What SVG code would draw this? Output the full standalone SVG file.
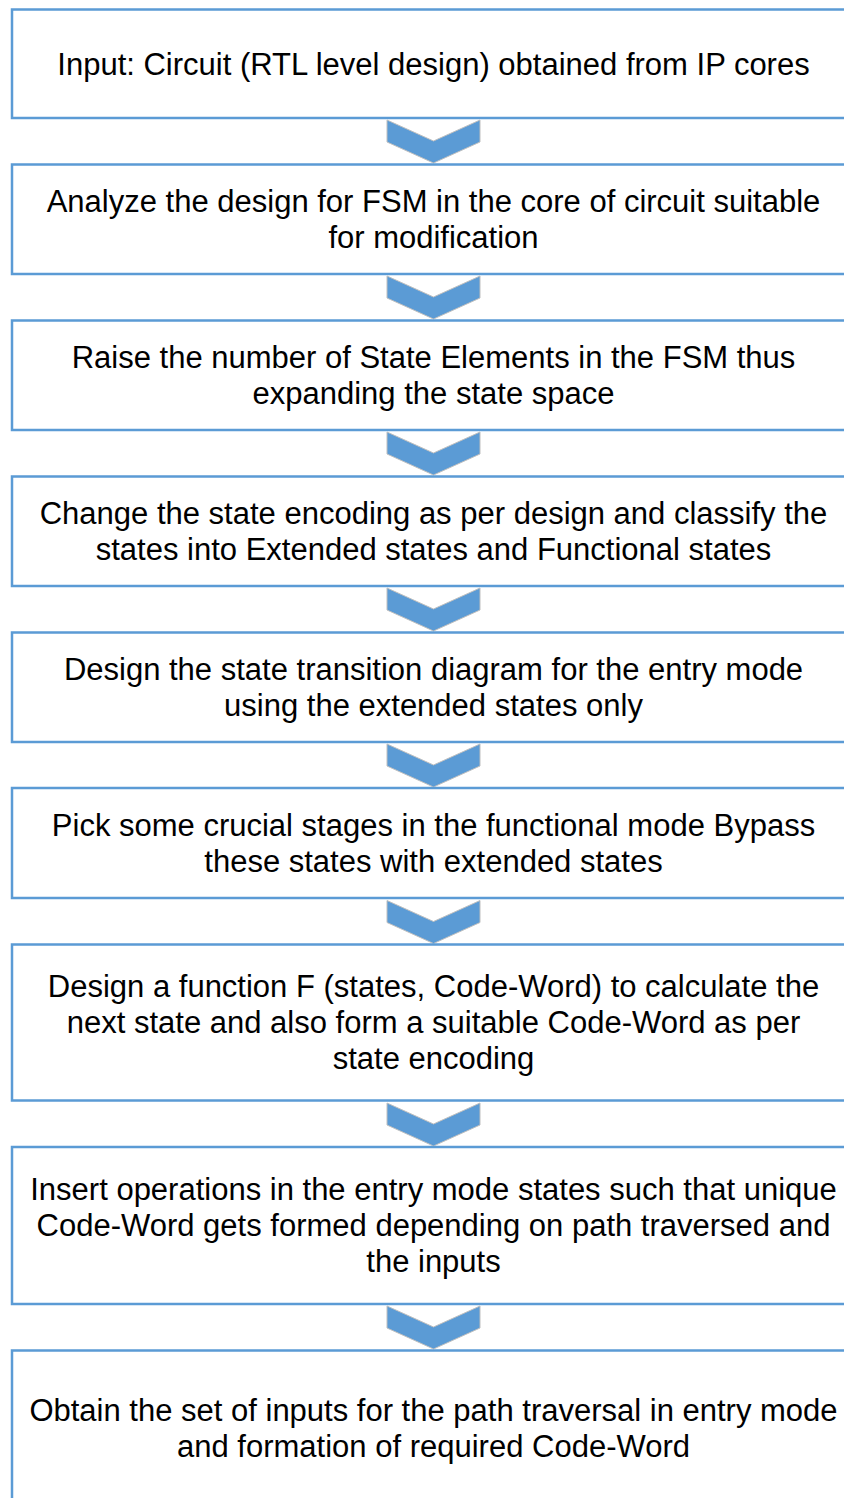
<svg xmlns="http://www.w3.org/2000/svg" width="844" height="1498" viewBox="0 0 844 1498">
<style>
.box{fill:#ffffff;stroke:#5b9bd5;stroke-width:2.5}
.t{font-family:"Liberation Sans",Arial,sans-serif;font-size:31px;fill:#000000;text-anchor:middle}
.chev{fill:#5b9bd5;stroke:#bfbfbf;stroke-width:1}
</style>
<defs>
<path id="chev" d="M-46.5,0 L0,21 L46.5,0 L46.5,22 L0,43 L-46.5,22 Z"/>
</defs>
<rect width="844" height="1498" fill="#ffffff"/>
<g id="connectors">
<use href="#chev" class="chev" transform="translate(433.5,120)"/>
<use href="#chev" class="chev" transform="translate(433.5,276)"/>
<use href="#chev" class="chev" transform="translate(433.5,432)"/>
<use href="#chev" class="chev" transform="translate(433.5,588)"/>
<use href="#chev" class="chev" transform="translate(433.5,744)"/>
<use href="#chev" class="chev" transform="translate(433.5,900.5)"/>
<use href="#chev" class="chev" transform="translate(433.5,1103)"/>
<use href="#chev" class="chev" transform="translate(433.5,1306)"/>
</g>
<g id="n1">
<rect class="box" x="12" y="9.5" width="900" height="108.5"/>
<text class="t" x="433.5" y="75">Input: Circuit (RTL level design) obtained from IP cores</text>
</g>
<g id="n2">
<rect class="box" x="12" y="164.5" width="900" height="109.5"/>
<text class="t" x="433.5" y="212">Analyze the design for FSM in the core of circuit suitable</text>
<text class="t" x="433.5" y="248">for modification</text>
</g>
<g id="n3">
<rect class="box" x="12" y="320.5" width="900" height="109.5"/>
<text class="t" x="433.5" y="368">Raise the number of State Elements in the FSM thus</text>
<text class="t" x="433.5" y="404">expanding the state space</text>
</g>
<g id="n4">
<rect class="box" x="12" y="476.5" width="900" height="109.5"/>
<text class="t" x="433.5" y="524">Change the state encoding as per design and classify the</text>
<text class="t" x="433.5" y="560">states into Extended states and Functional states</text>
</g>
<g id="n5">
<rect class="box" x="12" y="632.5" width="900" height="109.5"/>
<text class="t" x="433.5" y="680">Design the state transition diagram for the entry mode</text>
<text class="t" x="433.5" y="716">using the extended states only</text>
</g>
<g id="n6">
<rect class="box" x="12" y="788" width="900" height="110"/>
<text class="t" x="433.5" y="836">Pick some crucial stages in the functional mode Bypass</text>
<text class="t" x="433.5" y="872">these states with extended states</text>
</g>
<g id="n7">
<rect class="box" x="12" y="944.5" width="900" height="156"/>
<text class="t" x="433.5" y="997">Design a function F (states, Code-Word) to calculate the</text>
<text class="t" x="433.5" y="1033">next state and also form a suitable Code-Word as per</text>
<text class="t" x="433.5" y="1069">state encoding</text>
</g>
<g id="n8">
<rect class="box" x="12" y="1147" width="900" height="157"/>
<text class="t" x="433.5" y="1200">Insert operations in the entry mode states such that unique</text>
<text class="t" x="433.5" y="1236">Code-Word gets formed depending on path traversed and</text>
<text class="t" x="433.5" y="1272">the inputs</text>
</g>
<g id="n9">
<rect class="box" x="12" y="1350.5" width="900" height="200"/>
<text class="t" x="433.5" y="1421">Obtain the set of inputs for the path traversal in entry mode</text>
<text class="t" x="433.5" y="1457">and formation of required Code-Word</text>
</g>
</svg>
